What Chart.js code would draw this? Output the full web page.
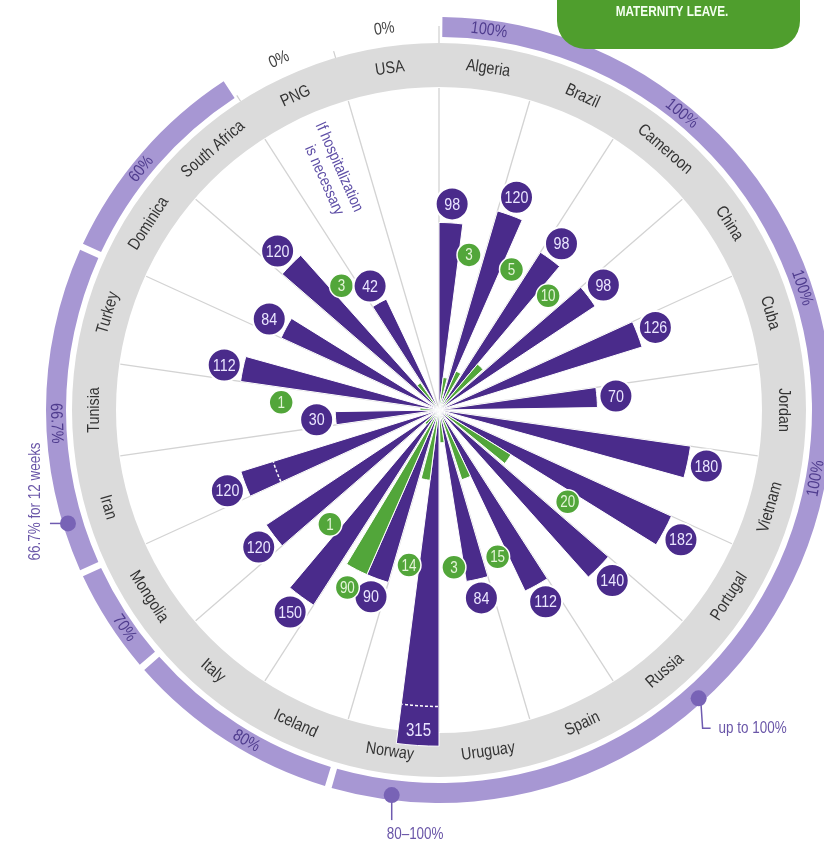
<!DOCTYPE html>
<html><head><meta charset="utf-8">
<script src="https://cdn.jsdelivr.net/npm/chart.js@4.4.1/dist/chart.umd.min.js"></script>
<style>html,body{margin:0;padding:0;background:#fff;overflow:hidden}</style>
</head><body>
<canvas id="c" width="824" height="846"></canvas>
<script>
// ---------- DATA ----------
const countries = ['Algeria','Brazil','Cameroon','China','Cuba','Jordan','Vietnam','Portugal','Russia','Spain','Uruguay','Norway','Iceland','Italy','Mongolia','Iran','Tunisia','Turkey','Dominica','South Africa','PNG','USA'];
const maternityDays = [98,120,98,98,126,70,180,182,140,112,84,315,90,150,120,120,30,112,84,120,42,0];
const paternityDays = [3,5,10,null,null,null,null,20,null,15,3,14,90,1,null,null,1,null,null,3,null,null];
const dashMarkDays  = [null,null,null,null,null,null,null,null,null,null,null,245,null,null,null,84,null,null,null,null,null,null];
const payLabels = ['100%','80%','70%','66.7%','60%'];
const payFirst  = ['Algeria','Iceland','Mongolia','Iran','Dominica'];
const payLast   = ['Norway','Italy','Mongolia','Turkey','South Africa'];
const zeroPayCountries = ['PNG','USA'];
const zeroPayLabel = '0%';
const calloutTexts = ['up to 100%','80–100%','66.7% for 12 weeks'];
const calloutCountries = ['Russia','Norway','Iran'];
const noteText = ['If hospitalization','is necessary'];
const titleText = 'MATERNITY LEAVE.';
const scaleMaxDays = 289;

// ---------- LAYOUT / STYLE ----------
const FONT = "'Liberation Sans',Arial,sans-serif";
const SQUEEZE = 0.84;
const PURPLE = '#4a2b8b', GREEN = '#52a63a', BAND = '#a797d3', RING = '#dbdbdb';
const payLabelThetas = [[7.5,39.3,71.4,100.3],[210.2],[235.3],[268],[309]];
const calloutThetas = [138, 187, 253];
const DEG = Math.PI/180;

// sqrt radial scale (area-proportional wedges)
class SqrtRadialScale extends Chart.RadialLinearScale {
  getDistanceFromCenterForValue(value) {
    if (value === null || value === undefined || isNaN(value)) return 0;
    const span = this.max - this.min;
    if (span <= 0) return 0;
    return this.drawingArea * Math.sqrt(Math.max(0, value - this.min) / span);
  }
}
SqrtRadialScale.id = 'sqrtRadial';
SqrtRadialScale.defaults = Chart.RadialLinearScale.defaults;
SqrtRadialScale.defaultRoutes = Chart.RadialLinearScale.defaultRoutes;
SqrtRadialScale.descriptors = Chart.RadialLinearScale.descriptors;
Chart.register(SqrtRadialScale);

const labels = [], values = [];
countries.forEach((c, i) => { labels.push(c, c, ''); values.push(maternityDays[i], paternityDays[i], null); });
const SECTOR = 360 / countries.length;
const WEDGE = 7.3;

function thetaOf(a){ let t = a/DEG + 90; return ((t % 360) + 360) % 360; }
function aOf(theta){ return (theta - 90) * DEG; }

function text(ctx, txt, x, y, rotDeg, font, color, align){
  ctx.save(); ctx.translate(x, y); ctx.rotate((rotDeg||0)*DEG); ctx.scale(SQUEEZE, 1);
  ctx.font = font; ctx.fillStyle = color; ctx.textAlign = align || 'center'; ctx.textBaseline = 'middle';
  ctx.fillText(txt, 0, 0); ctx.restore();
}
function tangentText(ctx, cx, cy, txt, a, r, font, color){
  const t = thetaOf(a);
  const rot = (t > 90.5 && t < 269.5) ? t - 180 : t;
  text(ctx, txt, cx + r*Math.cos(a), cy + r*Math.sin(a), rot, font, color);
}

const decor = {
  id: 'decor',
  beforeDatasetsDraw(chart){
    const ctx = chart.ctx, s = chart.scales.r, cx = s.xCenter, cy = s.yCenter, R = s.drawingArea;
    const meta = chart.getDatasetMeta(0).data;
    const secStart = i => meta[3*i].startAngle;
    const secEnd = i => meta[3*i+2].endAngle;
    ctx.save();
    ctx.beginPath(); ctx.arc(cx, cy, R+45, 0, 2*Math.PI); ctx.arc(cx, cy, R+1, 0, 2*Math.PI, true);
    ctx.fillStyle = RING; ctx.fill('evenodd');
    payLabels.forEach((lab, g) => {
      const i0 = countries.indexOf(payFirst[g]), i1 = countries.indexOf(payLast[g]);
      const a0 = secStart(i0) + 0.5*DEG, a1 = secEnd(i1) - 0.5*DEG;
      ctx.beginPath(); ctx.arc(cx, cy, R+71, a0, a1); ctx.arc(cx, cy, R+51, a1, a0, true); ctx.closePath();
      ctx.fillStyle = BAND; ctx.fill();
      payLabelThetas[g].forEach(t => tangentText(ctx, cx, cy, lab, aOf(t), R+61, "17px " + FONT, '#4f3c8e'));
    });
    zeroPayCountries.forEach(c => {
      const i = countries.indexOf(c);
      tangentText(ctx, cx, cy, zeroPayLabel, (secStart(i)+secEnd(i))/2, R+63, "17px " + FONT, '#444');
    });
    ctx.strokeStyle = '#cfcfcf'; ctx.lineWidth = 1.2;
    [[0, 62], [countries.indexOf('USA'), 52], [countries.indexOf('PNG'), 52]].forEach(([i, len]) => {
      const a = secStart(i);
      ctx.beginPath(); ctx.moveTo(cx + (R+45)*Math.cos(a), cy + (R+45)*Math.sin(a));
      ctx.lineTo(cx + (R+len)*Math.cos(a), cy + (R+len)*Math.sin(a)); ctx.stroke();
    });
    countries.forEach((c, i) => {
      tangentText(ctx, cx, cy, c, (secStart(i)+secEnd(i))/2, R+23, "17px " + FONT, '#333');
    });
    ctx.restore();
  },
  afterDatasetsDraw(chart){
    const ctx = chart.ctx, s = chart.scales.r, cx = s.xCenter, cy = s.yCenter, R = s.drawingArea;
    const meta = chart.getDatasetMeta(0).data;
    ctx.save();
    dashMarkDays.forEach((d, i) => {
      if (d == null) return;
      const el = meta[3*i], r = s.getDistanceFromCenterForValue(d);
      ctx.beginPath(); ctx.setLineDash([3,2]); ctx.strokeStyle = '#fff'; ctx.lineWidth = 1.5;
      ctx.arc(cx, cy, r, el.startAngle + 0.2*DEG, el.endAngle - 0.2*DEG); ctx.stroke();
    });
    ctx.setLineDash([]);
    countries.forEach((c, i) => {
      const m = meta[3*i], p = meta[3*i+1];
      if (maternityDays[i]) {
        const a = (m.startAngle + m.endAngle)/2;
        let r = m.outerRadius + 19;
        if (r + 17 > R) {
          r = m.outerRadius - 14;
          text(ctx, String(maternityDays[i]), cx + r*Math.cos(a), cy + r*Math.sin(a), 0, "18px " + FONT, '#e9e4ff');
        } else {
          const x = cx + r*Math.cos(a), y = cy + r*Math.sin(a);
          ctx.beginPath(); ctx.arc(x, y, 16.5, 0, 2*Math.PI); ctx.fillStyle = PURPLE; ctx.fill();
          ctx.lineWidth = 2; ctx.strokeStyle = '#fff'; ctx.stroke();
          text(ctx, String(maternityDays[i]), x, y + 1, 0, "17px " + FONT, '#ebe6ff');
        }
      }
      if (paternityDays[i]) {
        const a = (p.startAngle + p.endAngle)/2;
        const r = Math.max(p.outerRadius + 20, 158);
        const x = cx + r*Math.cos(a), y = cy + r*Math.sin(a);
        ctx.beginPath(); ctx.arc(x, y, 12, 0, 2*Math.PI); ctx.fillStyle = GREEN; ctx.fill();
        ctx.lineWidth = 1.5; ctx.strokeStyle = '#fff'; ctx.stroke();
        text(ctx, String(paternityDays[i]), x, y + 1, 0, "16px " + FONT, '#e4f5d8');
      }
    });
    calloutTexts.forEach((txt, k) => {
      const a = aOf(calloutThetas[k]), r = R + 66;
      const x = cx + r*Math.cos(a), y = cy + r*Math.sin(a);
      ctx.strokeStyle = '#6f5bb0'; ctx.lineWidth = 1.5;
      const f = "16px " + FONT, col = '#6a56a8';
      if (k === 0) {
        ctx.beginPath(); ctx.moveTo(x+2, y); ctx.lineTo(x+4, y+30); ctx.lineTo(x+12, y+30); ctx.stroke();
        text(ctx, txt, x+20, y+30, 0, f, col, 'left');
      } else if (k === 1) {
        ctx.beginPath(); ctx.moveTo(x, y); ctx.lineTo(x, y+25); ctx.stroke();
        text(ctx, txt, x-5, y+39, 0, f, col, 'left');
      } else {
        ctx.beginPath(); ctx.moveTo(x, y); ctx.lineTo(x-18, y); ctx.stroke();
        text(ctx, txt, x-32, y-22, -90, f, col, 'center');
      }
      ctx.beginPath(); ctx.arc(x, y, 8, 0, 2*Math.PI); ctx.fillStyle = '#7863b6'; ctx.fill();
    });
    const nx = 339, ny = 167, nr = 66*DEG;
    text(ctx, noteText[0], nx, ny, 66, "16px " + FONT, '#5e4ea6');
    text(ctx, noteText[1], nx + 6*Math.cos(nr) - 19*Math.sin(nr), ny + 6*Math.sin(nr) + 19*Math.cos(nr), 66, "16px " + FONT, '#5e4ea6');
    ctx.beginPath(); ctx.roundRect(557, -40, 243, 89, 28); ctx.fillStyle = '#4f9e2d'; ctx.fill();
    text(ctx, titleText, 672, 12, 0, "bold 14px " + FONT, '#f4fff0');
    ctx.restore();
  }
};

new Chart(document.getElementById('c'), {
  type: 'polarArea',
  data: { labels, datasets: [{
    data: values,
    clip: false,
    angle: ctx => [WEDGE, WEDGE, SECTOR - 2*WEDGE][ctx.dataIndex % 3],
    backgroundColor: ctx => [PURPLE, GREEN, 'rgba(0,0,0,0)'][ctx.dataIndex % 3],
    borderColor: '#ffffff',
    borderWidth: ctx => ctx.dataIndex % 3 === 2 ? 0 : 1
  }]},
  options: {
    responsive: false, animation: false, events: [],
    layout: { padding: { left: 117, right: 63, top: 88, bottom: 114 } },
    plugins: { legend: { display: false }, tooltip: { enabled: false } },
    scales: { r: {
      type: 'sqrtRadial', min: 0, max: scaleMaxDays, startAngle: 0,
      ticks: { display: false }, grid: { display: false },
      pointLabels: { display: false },
      angleLines: { display: true, color: c => c.index % 3 === 0 ? '#d3d3d3' : 'rgba(0,0,0,0)', lineWidth: 1.3 }
    }}
  },
  plugins: [decor]
});
</script>
</body></html>
